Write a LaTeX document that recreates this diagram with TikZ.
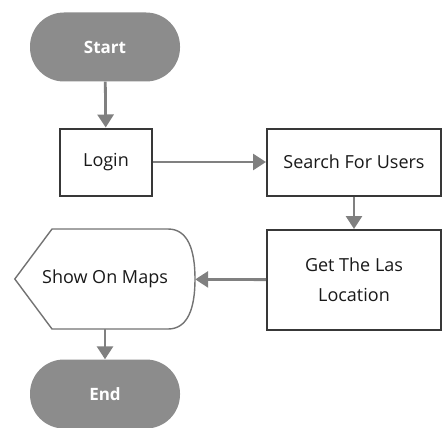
\documentclass[tikz,border=0pt]{standalone}
\usepackage{fontspec}
\setmainfont{Open Sans}
\usetikzlibrary{arrows.meta}

\begin{document}
\begin{tikzpicture}[x=1pt,y=-1pt,
    term/.style={rounded corners=34pt,fill=black!45,text=white,
      minimum width=150pt,minimum height=69pt,
      font=\fontsize{17}{20}\selectfont\bfseries},
    proc/.style={draw=black!78,line width=2pt,fill=white,align=center,
      text=black!90,font=\fontsize{18}{30}\selectfont},
    flow/.style={draw=black!50,line width=2.8pt,
      -{Triangle[length=13pt,width=16pt]}}]
  \useasboundingbox (0,0) rectangle (442,428);
  % terminators
  \node[term] (start) at (105,47) {Start};
  \node[term] (end) at (105,394) {End};
  % process boxes
  \node[proc,minimum width=92pt,minimum height=67pt] (login) at (106,162) {Login};
  \node[proc,minimum width=174pt,minimum height=67pt] (search) at (354,162)
    {Search For Users};
  \node[proc,minimum width=174pt,minimum height=100pt] (get) at (354,280)
    {Get The Las\\Location};
  % display shape, outline drawn by hand round the node
  \node[minimum width=180pt,minimum height=100pt] (show) at (105,279) {};
  \draw[black!55,line width=1.4pt,fill=white]
    (show.west) -- (52,229) -- (168,229)
    .. controls (188,229) and (195,250) .. (195,279)
    .. controls (195,308) and (188,329) .. (168,329)
    -- (52,329) -- cycle;
  \node[text=black!90,font=\fontsize{18}{20}\selectfont] at (show) {Show On Maps};
  % connectors
  \draw[flow] (start) -- (login);
  \draw[flow] (login) -- (search);
  \draw[flow] (search) -- (get);
  \draw[flow] (get) -- (show);
  \draw[flow] (show) -- (end);
\end{tikzpicture}
\end{document}
